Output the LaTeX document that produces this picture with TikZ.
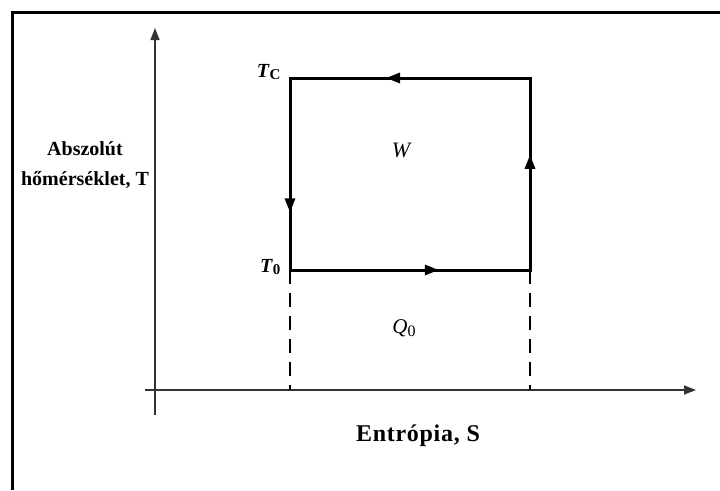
\documentclass[tikz,border=0pt]{standalone}
\usepackage{fontspec}
\setmainfont{Liberation Serif}
\usetikzlibrary{arrows.meta, decorations.markings}

\tikzset{
  edge/.style={line width=3pt, line cap=rect},
  axis/.style={line width=1.4pt, black!80},
  mid/.style={postaction={decorate, decoration={markings,
      mark=at position #1 with {\arrow{Triangle[length=14pt,width=10pt]}}}}},
  lbl/.style={font=\fontsize{20}{30}\selectfont\bfseries}
}

\begin{document}
\begin{tikzpicture}[x=1pt, y=-1pt]
  \useasboundingbox (0,0) rectangle (720,490);
  % frame
  \draw[line width=3pt] (12,490) -- (12,12) -- (720,12);

  % axes
  \coordinate (ybot) at (155,415);
  \coordinate (ytop) at (155,28);
  \coordinate (xleft) at (145,390);
  \coordinate (xright) at (696,390);
  \draw[axis, -{Triangle[length=12pt,width=9pt]}] (ybot) -- (ytop);
  \draw[axis, -{Triangle[length=12pt,width=9pt]}] (xleft) -- (xright);

  % cycle
  \coordinate (tl) at (290,78);
  \coordinate (tr) at (530,78);
  \coordinate (bl) at (290,270);
  \coordinate (br) at (530,270);
  \coordinate (sl) at (290,390);
  \coordinate (sr) at (530,390);
  \draw[edge, mid=0.6]  (tr) -- (tl);
  \draw[edge, mid=0.6]  (br) -- (tr);
  \draw[edge, mid=0.62] (bl) -- (br);
  \draw[edge, mid=0.7]  (tl) -- (bl);
  \draw[line width=2pt, dash pattern=on 14pt off 9pt] (bl) -- (sl);
  \draw[line width=2pt, dash pattern=on 14pt off 9pt] (br) -- (sr);

  % labels
  \node[lbl, anchor=east] (tc) at (284,72) {\textit{T}\raisebox{-0.3ex}{\fontsize{15}{15}\selectfont C}};
  \node[lbl, anchor=east] (t0) at (284,267) {\textit{T}\raisebox{-0.3ex}{\fontsize{15}{15}\selectfont 0}};
  \node[font=\fontsize{22}{24}\selectfont\itshape] (w) at (401,150) {W};
  \node[font=\fontsize{21}{24}\selectfont] (q0) at (404,328) {\textit{Q}\raisebox{-0.3ex}{\fontsize{16}{16}\selectfont 0}};
  \node[lbl, align=center] (ylab) at (85,165) {Abszolút\\hőmérséklet, T};
  \node[font=\fontsize{24}{30}\selectfont\bfseries\addfontfeatures{LetterSpace=3}] (xlab) at (418,436) {Entrópia, S};
\end{tikzpicture}
\end{document}
